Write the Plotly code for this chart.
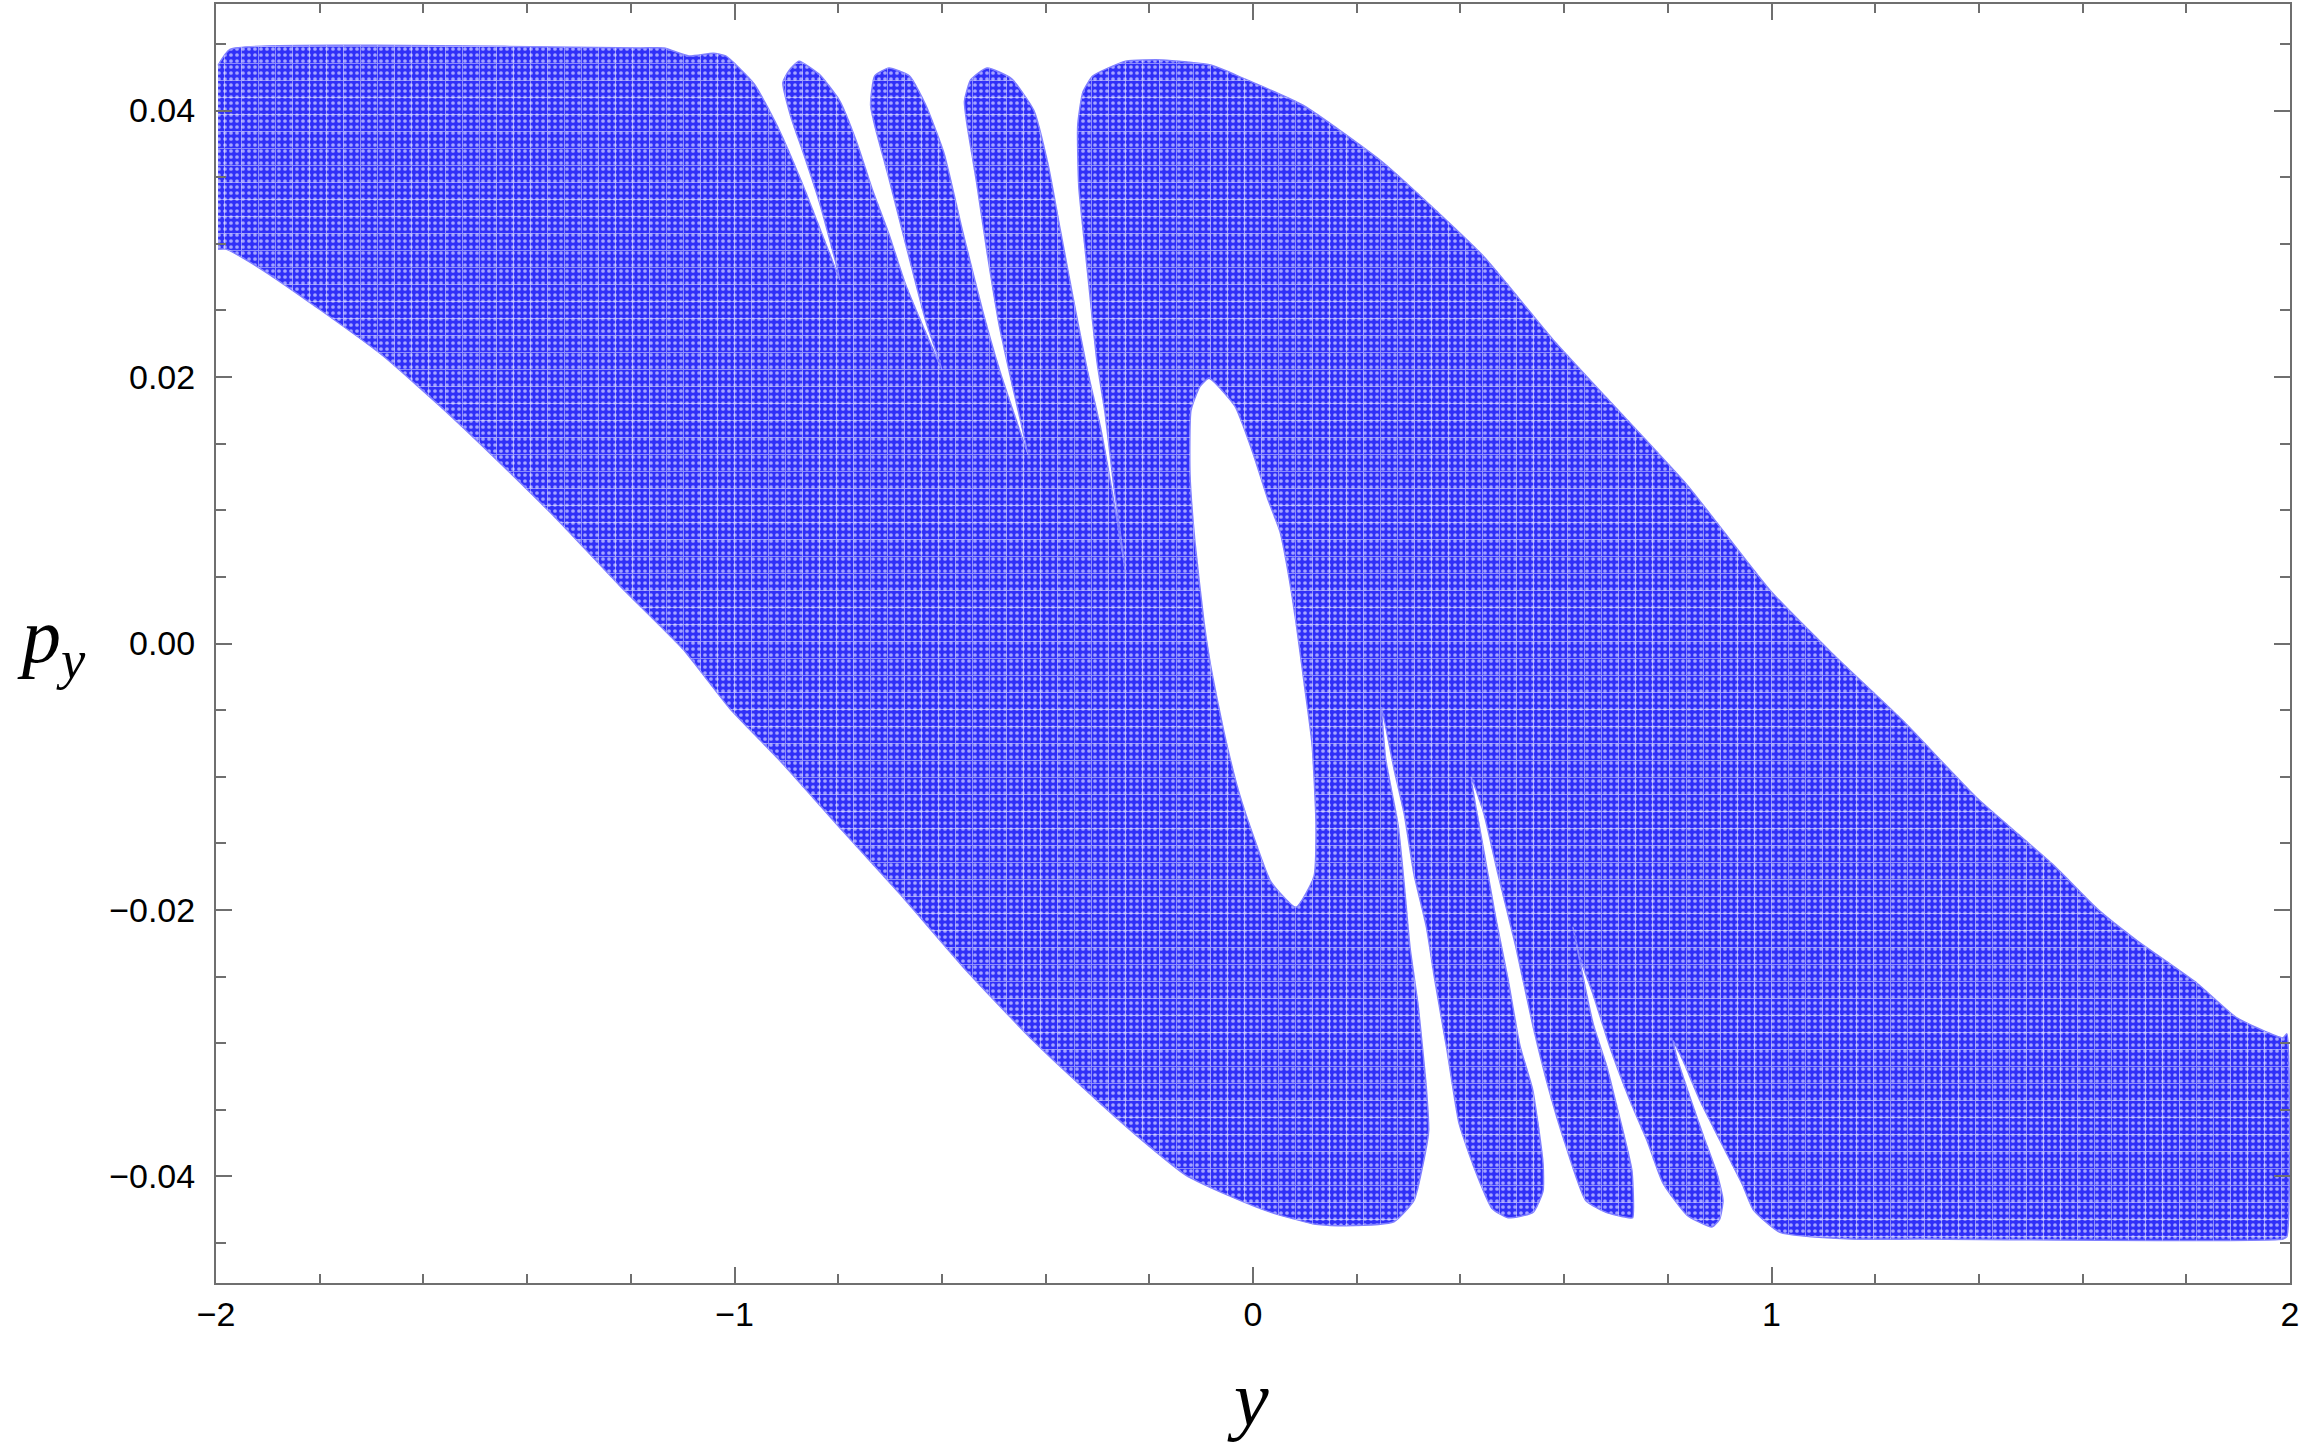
import plotly.graph_objects as go

# Outline of the filled region of the section (y, p_y), clockwise.
outer_y = [-1.996,-1.973,-1.695,-1.182,-1.136,-1.088,-1.041,-1.017,-0.962,-0.9146,-0.867,-0.828,-0.7966,
           -0.836,-0.867,-0.891,-0.9067,-0.895,-0.8756,-0.836,-0.7966,-0.765,-0.7335,-0.702,-0.6706,-0.631,-0.600,
           -0.631,-0.6706,-0.702,-0.7296,-0.7375,-0.7296,-0.702,-0.6627,-0.631,-0.596,-0.5605,-0.521,-0.4895,-0.458,-0.434,
           -0.466,-0.4895,-0.513,-0.533,-0.5525,-0.5565,-0.5446,-0.513,-0.466,-0.4226,-0.395,-0.3715,-0.3477,-0.320,-0.293,-0.265,-0.2455,
           -0.269,-0.285,-0.301,-0.316,-0.324,-0.336,-0.338,-0.328,-0.3086,-0.2455,-0.1747,-0.080,-0.0174,
           0.0964,0.2507,0.4436,0.5786,0.6827,0.837,0.997,1.1186,1.2536,1.3963,1.5429,1.6277,1.7049,1.8206,1.8977,1.9865,1.994,
           1.994,1.9865,1.2864,1.1514,1.0164,0.965,0.945,0.9335,0.9007,0.8621,0.8293,0.81,
           0.8177,0.8467,0.8717,0.8949,0.9065,0.90,0.8852,0.837,0.7907,0.7599,0.7271,0.6885,0.6557,0.6307,0.6172,
           0.6557,0.6827,0.702,0.7136,0.7309,0.7323,0.7244,0.6808,0.6417,0.6017,0.5709,0.5394,0.5072,0.4725,0.4449,0.4204,
           0.4449,0.4687,0.4918,0.5149,0.5394,0.5593,0.5593,0.54,0.4918,0.461,
           0.4291,0.3973,0.3741,0.3504,0.3346,0.3105,0.2912,0.2719,0.248,
           0.256,0.2797,0.2912,0.3028,0.3182,0.3346,0.3387,0.3267,0.3105,0.2719,0.1774,0.1215,0.0347,-0.0432,-0.1298,-0.2164,
           -0.295,-0.4243,-0.5516,-0.6808,-0.7907,-0.9122,-1.0087,-1.0999,-1.2228,-1.3443,-1.4349,-1.5506,-1.678,-1.7937,-1.917,-1.9807,-1.996]
outer_py = [0.0434,0.0446,0.0449,0.0447,0.0447,0.0441,0.0443,0.0441,0.0420,0.0386,0.0343,0.0304,0.0273,
            0.0331,0.0368,0.0395,0.0421,0.0430,0.0437,0.0427,0.0407,0.0377,0.0340,0.0307,0.0270,0.0233,0.0206,
            0.0242,0.0301,0.0349,0.0389,0.0404,0.0426,0.0432,0.0426,0.0404,0.0368,0.0310,0.0249,0.0206,0.0169,0.0142,
            0.0197,0.0239,0.0294,0.0346,0.0392,0.0407,0.0423,0.0432,0.0424,0.0400,0.0359,0.0310,0.0261,0.0206,0.0160,0.0099,0.0053,
            0.0120,0.0172,0.0212,0.0267,0.0297,0.0343,0.0389,0.0414,0.0426,0.0437,0.0438,0.0434,0.0424,
            0.0404,0.0361,0.0291,0.0228,0.0184,0.0119,0.0040,-0.0008,-0.0058,-0.0116,-0.0166,-0.0199,-0.0223,-0.0255,-0.0281,-0.0296,-0.0293,
            -0.0445,-0.0447,-0.0447,-0.0447,-0.0442,-0.0425,-0.0407,-0.0398,-0.0373,-0.0343,-0.0313,-0.0298,
            -0.0311,-0.0345,-0.0373,-0.0398,-0.0418,-0.0432,-0.0438,-0.0429,-0.0405,-0.0373,-0.0343,-0.0303,-0.0263,-0.0236,-0.0213,
            -0.0285,-0.0318,-0.0348,-0.0366,-0.0396,-0.0431,-0.0431,-0.0427,-0.0418,-0.0375,-0.0335,-0.0286,-0.0228,-0.0173,-0.0127,-0.0100,
            -0.0155,-0.0207,-0.0252,-0.0302,-0.0335,-0.0390,-0.0411,-0.0427,-0.0431,-0.0424,
            -0.0396,-0.0360,-0.0305,-0.0252,-0.0213,-0.0173,-0.0127,-0.0094,-0.0048,
            -0.0087,-0.0136,-0.0179,-0.0228,-0.0271,-0.0335,-0.0366,-0.0393,-0.0418,-0.0434,-0.0437,-0.0436,-0.0427,-0.0415,-0.0399,-0.0372,
            -0.0345,-0.0298,-0.0246,-0.0188,-0.0141,-0.0088,-0.0049,-0.0004,0.0044,0.0094,0.0129,0.0172,0.0216,0.0249,0.0282,0.0296,0.0296]

# Empty island in the middle (anticlockwise, so it is cut out of the fill).
hole_y = [-0.0849,-0.1022,-0.1196,-0.1215,-0.1119,-0.0945,-0.0829,-0.0675,-0.0511,-0.027,0.0039,0.0347,0.0829,
          0.1175,0.1215,0.1138,0.0984,0.0829,0.0675,0.0521,0.0289,-0.0019,-0.0347,-0.0849]
hole_py = [0.0199,0.0193,0.0175,0.0127,0.0076,0.0016,-0.0014,-0.0045,-0.0075,-0.0112,-0.0148,-0.0179,-0.0198,
           -0.0175,-0.0136,-0.0075,-0.0029,0.0016,0.0054,0.0084,0.0108,0.0145,0.0178,0.0199]

x_major = [-2, -1, 0, 1, 2]
y_major = [-0.04, -0.02, 0.00, 0.02, 0.04]
x_labels = ["\u22122", "\u22121", "0", "1", "2"]
y_labels = ["\u22120.04", "\u22120.02", "0.00", "0.02", "0.04"]

AXIS = "#6f6f6f"
FONT = "Liberation Sans"

fill_x = outer_y + [None] + hole_y
fill_y = outer_py + [None] + hole_py

fig = go.Figure()
fig.add_trace(go.Scatter(
    x=fill_x, y=fill_y, mode="lines", fill="toself",
    line=dict(width=1.5, color="#8080ff", shape="spline", smoothing=0.5),
    fillcolor="#3f3ffa",
    fillpattern=dict(shape=".", size=6, solidity=0.3, fgcolor="#a4a4ff", bgcolor="#3030f8", fillmode="replace"),
    hoverinfo="skip", showlegend=False))
fig.add_trace(go.Scatter(
    x=fill_x, y=fill_y, mode="lines", fill="toself",
    line=dict(width=0, shape="spline", smoothing=0.5),
    fillcolor="rgba(0,0,0,0)",
    fillpattern=dict(shape="+", size=17, solidity=0.10, fgcolor="#ffffff", bgcolor="rgba(0,0,0,0)", fillmode="overlay"),
    hoverinfo="skip", showlegend=False))

common = dict(showgrid=False, zeroline=False, showline=True, linecolor=AXIS, linewidth=2, mirror="ticks",
              ticks="inside", tickcolor=AXIS, tickwidth=2, ticklen=16,
              tickfont=dict(family=FONT, size=34, color="black"))
fig.update_xaxes(range=[-2, 2], tickmode="array", tickvals=x_major, ticktext=x_labels,
                 minor=dict(ticks="inside", dtick=0.2, tick0=0, ticklen=9, tickwidth=2, tickcolor=AXIS, showgrid=False),
                 ticklabelstandoff=0, **common)
fig.update_yaxes(range=[-0.048, 0.048], tickmode="array", tickvals=y_major, ticktext=y_labels,
                 minor=dict(ticks="inside", dtick=0.005, tick0=0, ticklen=10, tickwidth=2, tickcolor=AXIS, showgrid=False),
                 ticklabelstandoff=12, **common)

fig.add_annotation(xref="paper", yref="paper", x=0.4975, y=-0.055, yanchor="top", xanchor="center", showarrow=False,
                   text="<i>y</i>", font=dict(family="Liberation Serif", size=78, color="black"))
fig.add_annotation(xref="paper", yref="paper", x=-0.097, y=0.502, yanchor="middle", xanchor="left", showarrow=False,
                   text="<i>p<sub>y</sub></i>", font=dict(family="Liberation Serif", size=78, color="black"))

fig.update_layout(width=2304, height=1448, margin=dict(l=216, r=14, t=2, b=165),
                  paper_bgcolor="white", plot_bgcolor="white", showlegend=False)

fig.write_html("out.html", include_plotlyjs=True, config={"displayModeBar": False},
               post_script="document.body.style.margin='0';document.body.style.overflow='hidden';")
